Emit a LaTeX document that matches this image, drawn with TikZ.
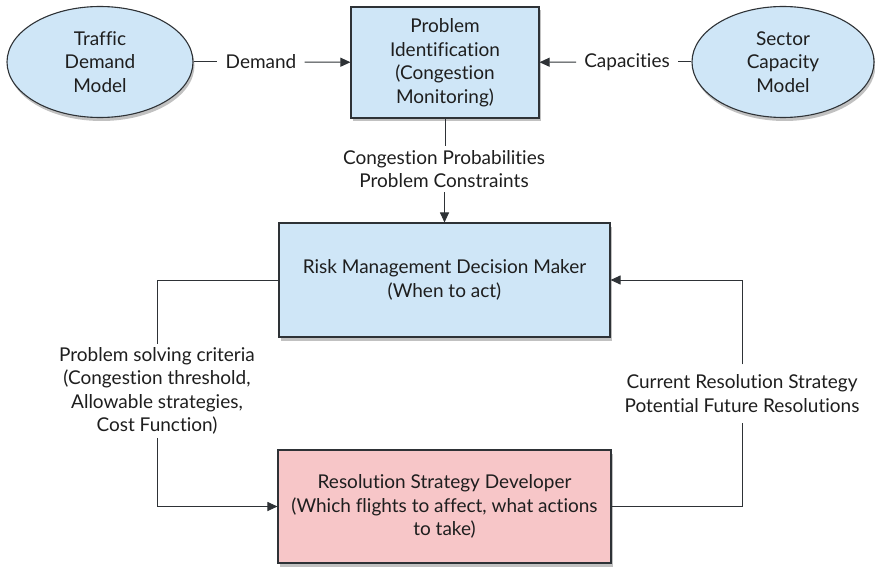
\documentclass[tikz,border=0pt]{standalone}
\usepackage{fontspec}
\setmainfont{Lato}[Ligatures={NoCommon}]
\usetikzlibrary{shapes.geometric,arrows.meta,shadows}
\definecolor{boxblue}{HTML}{CFE6F7}
\definecolor{boxpink}{HTML}{F7C6C8}
\definecolor{edge}{HTML}{2E3236}
\definecolor{ink}{HTML}{1E1E1E}
\begin{document}
\begin{tikzpicture}[x=1pt,y=-1pt,
  font=\fontsize{19}{23.5}\selectfont,
  every node/.style={text=ink},
  softshadow/.style={drop shadow={opacity=0.3,shadow xshift=1.5pt,shadow yshift=-3.5pt,fill=black!80}},
  model/.style={ellipse,draw=edge,line width=1.1pt,fill=boxblue,align=center,inner sep=0pt,softshadow},
  stage/.style={rectangle,draw=edge,line width=1.1pt,align=center,inner sep=0pt,softshadow},
  flowlabel/.style={align=center,inner xsep=8pt,inner ysep=5pt},
  link/.style={draw=edge,line width=1pt},
  arrowlink/.style={link,-{Triangle[length=10pt,width=9pt]}}]
  \useasboundingbox (0,0) rectangle (875,567);

  % source models
  \node[model,minimum width=186pt,minimum height=111pt] (tdm) at (100,62) {Traffic\\Demand\\Model};
  \node[model,minimum width=182pt,minimum height=111pt] (scm) at (783,62) {Sector\\Capacity\\Model};

  % processing stages
  \node[stage,fill=boxblue,minimum width=188pt,minimum height=111pt] (pi) at (445,62.5)
    {Problem\\Identification\\(Congestion\\Monitoring)};
  \node[stage,fill=boxblue,minimum width=331pt,minimum height=114pt] (rm) at (444.5,280)
    {Risk Management Decision Maker\\(When to act)};
  \node[stage,fill=boxpink,minimum width=333pt,minimum height=113pt] (rs) at (444.5,506.5)
    {Resolution Strategy Developer\\(Which flights to affect, what actions\\to take)};

  % connector labels
  \node[flowlabel] (dem) at (261,62) {Demand};
  \node[flowlabel] (cap) at (627,62) {Capacities};
  \node[flowlabel,inner ysep=4pt] (cong) at (444,169) {Congestion Probabilities\\Problem Constraints};
  \node[flowlabel,inner ysep=3pt] (crit) at (157,391)
    {Problem solving criteria\\(Congestion threshold,\\Allowable strategies,\\Cost Function)};
  \node[flowlabel,inner ysep=10pt] (cur) at (742,393.5)
    {Current Resolution Strategy\\Potential Future Resolutions};

  % connectors
  \draw[link] (tdm) -- (dem);
  \draw[arrowlink] (dem) -- (pi);
  \draw[link] (scm) -- (cap);
  \draw[arrowlink] (cap) -- (pi);
  \draw[link] (pi.south) -- (cong.north -| pi.south);
  \draw[arrowlink] (cong.south -| rm.north) -- (rm.north);
  \draw[link] (rm.west) -| (crit.north);
  \draw[arrowlink] (crit.south) |- (rs.west);
  \draw[link] (rs.east) -| (cur.south);
  \draw[arrowlink] (cur.north) |- (rm.east);
\end{tikzpicture}
\end{document}
